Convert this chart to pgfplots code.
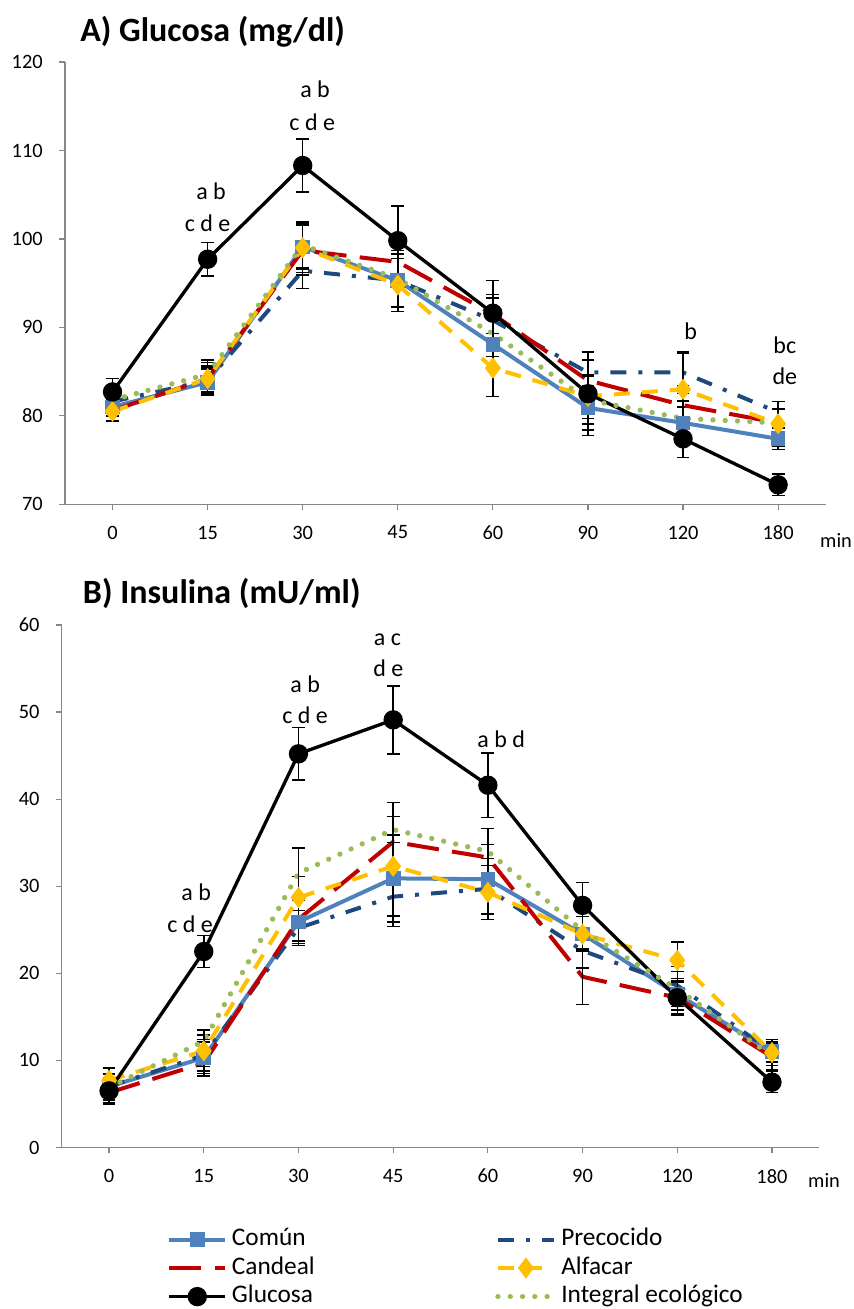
\documentclass[border=0pt]{standalone}
\usepackage{fontspec}
\setmainfont{Carlito}
\usepackage{pgfplots}
\pgfplotsset{compat=1.18}

\definecolor{comun}{HTML}{4F81BD}
\definecolor{preco}{HTML}{1F497D}
\definecolor{cand}{HTML}{C00000}
\definecolor{alfa}{HTML}{FFC000}
\definecolor{integ}{HTML}{9BBB59}
\definecolor{axgray}{HTML}{868686}

\newcommand\tck{\fontsize{15.3pt}{18pt}\selectfont}
\newcommand\lgd{\fontsize{19pt}{22pt}\selectfont}
\newcommand\ann{\fontsize{18pt}{21pt}\selectfont}
\newcommand\ttl{\bfseries\fontsize{25.5pt}{30pt}\selectfont}

\pgfplotsset{
  panel/.style={
    scale only axis, clip=false,
    xmin=-0.5, xmax=7.5,
    xtick={0,...,7}, xticklabels={0,15,30,45,60,90,120,180},
    axis x line*=bottom, axis y line*=left,
    axis line style={draw=axgray, line width=0.9pt},
    tick align=outside, major tick length=4.5pt,
    tick style={draw=axgray, line width=0.9pt},
    /pgf/number format/assume math mode=true,
    tick label style={font=\tck, inner sep=0pt},
    yticklabel style={xshift=-12pt},
    xticklabel style={yshift=-11.5pt},
    error bars/y dir=both, error bars/y explicit,
    error bars/error bar style={black, line width=1.1pt, solid},
    error bars/error mark options={black, rotate=90, mark size=4.8pt, line width=1.1pt, solid},
    legend image code/.code={
      \draw[mark repeat=2, mark phase=2, #1] plot coordinates {(0pt,0pt) (21pt,0pt) (42pt,0pt)};
    },
  },
  sComun/.style={comun, line width=3pt, mark=square*, mark size=4pt, mark options={solid, fill=comun}},
  sPreco/.style={preco, line width=3pt, dash pattern=on 12pt off 9pt on 3pt off 9pt, mark=none},
  sCand/.style={cand, line width=3pt, dash pattern=on 24pt off 10pt, mark=none},
  sAlfa/.style={alfa, line width=3pt, dash pattern=on 12pt off 9pt, mark=diamond*, mark size=5.5pt, mark options={solid, fill=alfa}},
  sGluc/.style={black, line width=2.5pt, mark=*, mark size=6pt, mark options={solid, fill=black}},
  sInteg/.style={integ, line width=4pt, line cap=round, dash pattern=on 0.01pt off 9.2pt, mark=none},
}

\begin{document}
\begin{tikzpicture}
\path[use as bounding box] (0,0) rectangle (639.75pt,-981.75pt);

% ---------- A) Glucosa ----------
\begin{axis}[panel,
  at={(48.75pt,-378.2pt)}, anchor=south west,
  width=570.5pt, height=331.7pt,
  ymin=70, ymax=120, ytick={70,80,...,120},
  title={A) Glucosa (mg/dl)},
  title style={at={(0.0197,1.046)}, anchor=base west, yshift=-6pt, font=\ttl, inner sep=0pt},
]
\addplot[sComun] table[x=x, y=y, y error=e] {
x y e
0 81.0 1.0
1 83.8 1.5
2 99.1 2.5
3 95.3 3.0
4 88.1 2.8
5 80.9 2.5
6 79.2 1.8
7 77.4 1.2
};
\addplot[sPreco] table[x=x, y=y, y error=e] {
x y e
0 81.6 1.2
1 84.0 1.5
2 96.4 2.0
3 95.3 3.0
4 90.8 2.5
5 84.9 2.4
6 84.9 2.4
7 80.4 1.2
};
\addplot[sCand] table[x=x, y=y, y error=e] {
x y e
0 80.6 1.2
1 84.2 1.5
2 98.7 2.8
3 97.4 2.5
4 91.5 2.2
5 84.0 2.3
6 81.2 2.2
7 79.2 1.5
};
\addplot[sAlfa] table[x=x, y=y, y error=e] {
x y e
0 80.5 1.0
1 84.2 1.8
2 99.0 2.8
3 94.8 3.0
4 85.4 3.2
5 82.2 2.5
6 83.0 4.1
7 79.1 2.5
};
\addplot[sGluc] table[x=x, y=y, y error=e] {
x y e
0 82.7 1.5
1 97.7 1.9
2 108.3 3.0
3 99.8 3.9
4 91.6 3.7
5 82.5 4.7
6 77.4 2.1
7 72.2 1.2
};
\addplot[sInteg] table[x=x, y=y, y error=e] {
x y e
0 81.8 1.2
1 84.7 1.6
2 99.3 2.6
3 95.5 3.2
4 89.3 2.6
5 81.8 2.7
6 79.7 2.0
7 79.2 1.6
};
\node[font=\ann, anchor=base] at (axis cs:1.036,104.4) {a b};
\node[font=\ann, anchor=base] at (axis cs:1.00,100.8) {c d e};
\node[font=\ann, anchor=base] at (axis cs:2.13,116.0) {a b};
\node[font=\ann, anchor=base] at (axis cs:2.10,112.3) {c d e};
\node[font=\ann, anchor=base] at (axis cs:6.08,88.6) {b};
\node[font=\ann, anchor=base] at (axis cs:7.07,87.0) {bc};
\node[font=\ann, anchor=base] at (axis cs:7.07,83.5) {de};
\node[font=\tck, anchor=base west, inner sep=0pt] at (axis cs:7.44,65.1) {min};
\end{axis}

% ---------- B) Insulina ----------
\begin{axis}[panel,
  at={(46.3pt,-860.6pt)}, anchor=south west,
  width=568.2pt, height=391.9pt,
  ymin=0, ymax=60, ytick={0,10,...,60},
  title={B) Insulina (mU/ml)},
  title style={at={(0.0277,1.042)}, anchor=base west, yshift=-6pt, font=\ttl, inner sep=0pt},
  legend columns=2,
  legend cell align=left,
  legend style={draw=none, fill=none, at={(0.139,-0.154)}, anchor=north west,
    font=\lgd, inner sep=0pt, row sep=4.4pt,
    nodes={inner sep=0pt, text height=13pt, text depth=4pt},
    /tikz/every odd column/.append style={column sep=3.5pt}},
]
\addplot[sComun] table[x=x, y=y, y error=e] {
x y e
0 7.0 1.5
1 10.3 1.8
2 25.9 2.5
3 30.9 5.0
4 30.8 4.0
5 24.5 2.0
6 17.6 1.8
7 11.0 1.2
};
\addlegendentry{\makebox[197.5pt][l]{Común}}
\addplot[sPreco] table[x=x, y=y, y error=e] {
x y e
0 7.0 1.5
1 10.6 1.8
2 25.2 2.0
3 28.8 3.4
4 29.7 3.5
5 22.6 2.0
6 18.6 2.2
7 11.0 1.2
};
\addlegendentry{Precocido}
\addplot[sCand] table[x=x, y=y, y error=e] {
x y e
0 6.3 1.2
1 9.7 1.5
2 26.2 2.5
3 35.1 4.5
4 33.3 3.3
5 19.6 3.2
6 17.2 2.0
7 10.4 1.5
};
\addlegendentry{\makebox[197.5pt][l]{Candeal}}
\addplot[sAlfa] table[x=x, y=y, y error=e] {
x y e
0 7.7 1.4
1 11.1 1.8
2 28.7 2.4
3 32.3 5.7
4 29.3 3.1
5 24.5 2.0
6 21.5 2.1
7 10.9 1.5
};
\addlegendentry{Alfacar}
\addplot[sGluc] table[x=x, y=y, y error=e] {
x y e
0 6.5 1.5
1 22.5 1.85
2 45.2 3.0
3 49.1 3.9
4 41.6 3.7
5 27.8 2.6
6 17.2 1.8
7 7.5 1.2
};
\addlegendentry{\makebox[197.5pt][l]{Glucosa}}
\addplot[sInteg] table[x=x, y=y, y error=e] {
x y e
0 6.9 1.5
1 12.2 1.3
2 31.5 2.9
3 36.5 1.5
4 34.0 2.6
5 24.9 2.3
6 18.2 2.0
7 10.5 1.6
};
\addlegendentry{Integral ecológico}
\node[font=\ann, anchor=base] at (axis cs:0.92,28.4) {a b};
\node[font=\ann, anchor=base] at (axis cs:0.855,24.7) {c d e};
\node[font=\ann, anchor=base] at (axis cs:2.07,52.3) {a b};
\node[font=\ann, anchor=base] at (axis cs:2.07,48.7) {c d e};
\node[font=\ann, anchor=base] at (axis cs:2.94,57.6) {a c};
\node[font=\ann, anchor=base] at (axis cs:2.95,54.1) {d e};
\node[font=\ann, anchor=base] at (axis cs:4.14,45.9) {a b d};
\node[font=\tck, anchor=base west, inner sep=0pt] at (axis cs:7.38,-4.54) {min};
\end{axis}
\end{tikzpicture}
\end{document}
